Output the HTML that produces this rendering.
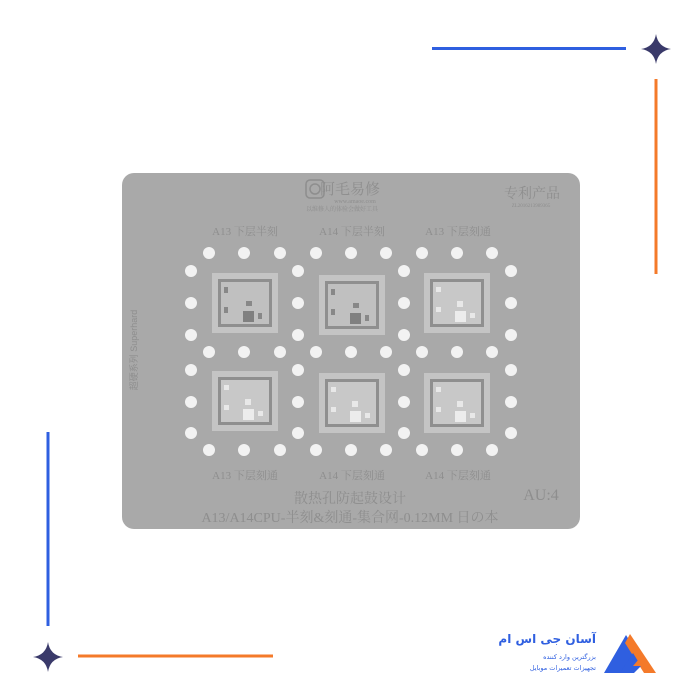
<!DOCTYPE html>
<html><head><meta charset="utf-8"><style>
html,body{margin:0;padding:0;background:#fff;width:700px;height:700px;overflow:hidden}
svg{display:block}
</style></head><body>
<svg width="700" height="700" viewBox="0 0 700 700" xmlns="http://www.w3.org/2000/svg" font-family="'Liberation Serif','Noto Serif CJK SC',serif">
<defs>
<g id="r"><circle cx="209" cy="0" r="6"/><circle cx="244" cy="0" r="6"/><circle cx="280" cy="0" r="6"/><circle cx="316" cy="0" r="6"/><circle cx="351" cy="0" r="6"/><circle cx="386" cy="0" r="6"/><circle cx="422" cy="0" r="6"/><circle cx="457" cy="0" r="6"/><circle cx="492" cy="0" r="6"/></g>
<g id="c"><circle cx="191" cy="0" r="6"/><circle cx="298" cy="0" r="6"/><circle cx="404" cy="0" r="6"/><circle cx="511" cy="0" r="6"/></g>
<g id="chip">
<rect x="0" y="0" width="66" height="60" fill="#c4c4c4"/>
<rect x="6" y="6" width="54" height="48" fill="#8f8f8f"/>
<rect x="9" y="9" width="48" height="42" fill="#c8c8c8"/>
<rect x="12" y="14" width="5" height="5" fill="#e8e8e8"/>
<rect x="12" y="34" width="5" height="5" fill="#e8e8e8"/>
<rect x="33" y="28" width="6" height="6" fill="#e8e8e8"/>
<rect x="31" y="38" width="11" height="11" fill="#ececec"/>
<rect x="46" y="40" width="5" height="5" fill="#e8e8e8"/>
</g>
<g id="chipd">
<rect x="0" y="0" width="66" height="60" fill="#c4c4c4"/>
<rect x="6" y="6" width="54" height="48" fill="#8f8f8f"/>
<rect x="9" y="9" width="48" height="42" fill="#c0c0c0"/>
<rect x="12" y="14" width="4" height="6" fill="#888"/>
<rect x="12" y="34" width="4" height="6" fill="#888"/>
<rect x="34" y="28" width="6" height="5" fill="#888"/>
<rect x="31" y="38" width="11" height="11" fill="#808080"/>
<rect x="46" y="40" width="4" height="6" fill="#888"/>
</g>
</defs>
<!-- decorations -->
<rect x="432" y="47" width="194" height="3" fill="#2f5fe0"/>
<rect x="654.5" y="79" width="3" height="195" fill="#f47a2a"/>
<rect x="46.5" y="432" width="3" height="194" fill="#2f5fe0"/>
<rect x="78" y="654.5" width="195" height="3" fill="#f47a2a"/>
<path d="M656 34 Q658 47 671 49 Q658 51 656 64 Q654 51 641 49 Q654 47 656 34Z" fill="#3a3a6a"/>
<path d="M48 642 Q50 655 63 657 Q50 659 48 672 Q46 659 33 657 Q46 655 48 642Z" fill="#3a3a6a"/>
<!-- logo -->
<polygon points="604,673 626,635 636,651 622,673" fill="#2f5fe0"/>
<polygon points="630,634 656,673 644,673 625,643" fill="#f47a2a"/>
<polygon points="620,673 633,653 641,666 634,673" fill="#2f5fe0"/>
<polygon points="633,666 639,659 643,666" fill="#f47a2a"/>
<text x="596" y="643" font-family="'DejaVu Sans',sans-serif" font-size="12" font-weight="bold" fill="#2f5fe0" text-anchor="end">آسان جی اس ام</text>
<text x="596" y="659" font-family="'DejaVu Sans',sans-serif" font-size="6.5" fill="#2f5fe0" text-anchor="end">بزرگترین وارد کننده</text>
<text x="596" y="670" font-family="'DejaVu Sans',sans-serif" font-size="6.5" fill="#2f5fe0" text-anchor="end">تجهیزات تعمیرات موبایل</text>
<!-- stencil -->
<rect x="122" y="173" width="458" height="356" rx="12" fill="#a9a9a9"/>
<g fill="#8e8e8e" text-anchor="middle">
<rect x="306" y="180" width="18" height="18" rx="4" fill="none" stroke="#8e8e8e" stroke-width="1.5"/>
<circle cx="315" cy="189" r="5" fill="none" stroke="#8e8e8e" stroke-width="1.5"/>
<text x="350" y="194" font-size="15">阿毛易修</text>
<text x="355" y="203" font-size="6">www.amaoe.com</text>
<text x="342" y="211" font-size="6">以维修人的体验会做好工具</text>
<text x="532" y="198" font-size="14">专利产品</text>
<text x="531" y="207" font-size="5">ZL2016213989365</text>
<text x="245" y="235" font-size="11">A13 下层半刻</text>
<text x="352" y="235" font-size="11">A14 下层半刻</text>
<text x="458" y="235" font-size="11">A13 下层刻通</text>
<text x="245" y="479" font-size="11">A13 下层刻通</text>
<text x="352" y="479" font-size="11">A14 下层刻通</text>
<text x="458" y="479" font-size="11">A14 下层刻通</text>
<text x="350" y="503" font-size="14">散热孔防起鼓设计</text>
<text x="350" y="522" font-size="14">A13/A14CPU-半刻&amp;刻通-集合网-0.12MM 日の本</text>
<text x="541" y="500" font-size="16">AU:4</text>
<text transform="translate(137,350) rotate(-90)" font-size="9" font-family="'Liberation Sans','Noto Sans CJK SC',sans-serif">超硬系列 Superhard</text>
</g>
<g fill="#f2f2f2">
<use href="#r" y="253"/><use href="#r" y="352"/><use href="#r" y="450"/>
<use href="#c" y="271"/><use href="#c" y="303"/><use href="#c" y="335"/>
<use href="#c" y="370"/><use href="#c" y="402"/><use href="#c" y="433"/>
</g>
<use href="#chipd" x="212" y="273"/>
<use href="#chipd" x="319" y="275"/>
<use href="#chip" x="424" y="273"/>
<use href="#chip" x="212" y="371"/>
<use href="#chip" x="319" y="373"/>
<use href="#chip" x="424" y="373"/>
</svg>
</body></html>
